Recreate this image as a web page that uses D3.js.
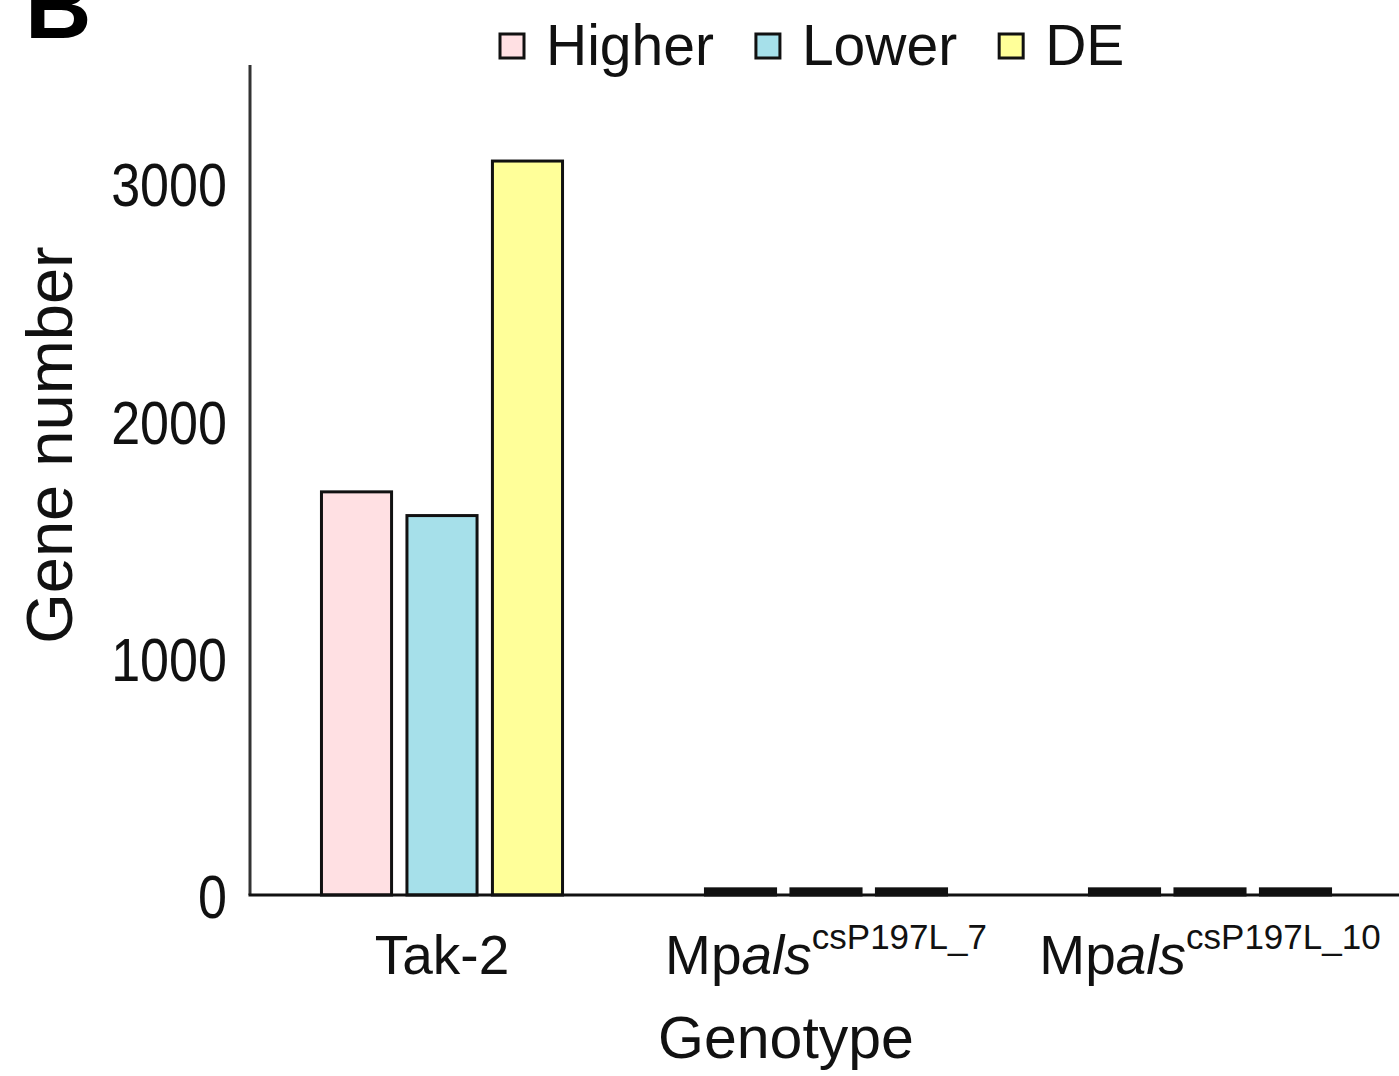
<!DOCTYPE html>
<html>
<head>
<meta charset="utf-8">
<script src="https://cdn.jsdelivr.net/npm/d3@7"></script>
<style>
  html, body { margin: 0; padding: 0; background: #ffffff; }
  svg { display: block; font-family: "Liberation Sans", Arial, Helvetica, sans-serif; }
</style>
</head>
<body>
<svg id="chart" width="1399" height="1076"></svg>
<script>
// Genotypes on the x axis
const genotypes = ["Tak-2", "MpalsP197L_7", "MpalsP197L_10"];
// Tick label parts: plain prefix, italic part, superscript
const labelPlain = ["Tak-2", "Mp", "Mp"];
const labelItalic = ["", "als", "als"];
const labelSup = ["", "csP197L_7", "csP197L_10"];

// Series (number of genes)
const seriesKeys = ["Higher", "Lower", "DE"];
const higher = [1700, 26, 26];
const lower = [1600, 26, 26];
const de = [3095, 26, 26];
const seriesValues = [higher, lower, de];
const seriesColors = ["#ffe0e3", "#a6e0ea", "#ffff99"];

// Y axis ticks
const yTicks = [0, 1000, 2000, 3000];
const yMax = 3500;

const svg = d3.select("#chart");

const plot = { left: 250, right: 1402, top: 65, bottom: 895 };
const outline = "#111";

const x0 = d3.scaleBand()
  .domain(genotypes)
  .range([plot.left, plot.right])
  .paddingInner(0)
  .paddingOuter(0);

const x1 = d3.scaleBand()
  .domain(seriesKeys)
  .range([0, x0.bandwidth()])
  .paddingInner(0.18)
  .paddingOuter(0.836);

const y = d3.scaleLinear()
  .domain([0, yMax])
  .range([plot.bottom, plot.top]);

const colour = d3.scaleOrdinal().domain(seriesKeys).range(seriesColors);

// Bars
const rows = genotypes.map((g, i) => ({
  genotype: g,
  values: seriesKeys.map((k, j) => ({ key: k, value: seriesValues[j][i] }))
}));

const groups = svg.append("g")
  .selectAll("g")
  .data(rows)
  .join("g")
  .attr("transform", d => `translate(${x0(d.genotype)},0)`);

// very short bars are filled entirely by their outline
groups.selectAll("rect")
  .data(d => d.values)
  .join("rect")
  .attr("x", d => x1(d.key))
  .attr("y", d => y(d.value))
  .attr("width", x1.bandwidth())
  .attr("height", d => y(0) - y(d.value))
  .attr("fill", d => (y(0) - y(d.value)) < 8 ? outline : colour(d.key))
  .attr("stroke", outline)
  .attr("stroke-width", 3);

// Y axis
const yAxis = svg.append("g")
  .attr("transform", `translate(${plot.left},0)`)
  .call(d3.axisLeft(y).tickValues(yTicks).tickSize(0).tickPadding(0).tickFormat(d3.format("d")));

yAxis.select(".domain").remove();
yAxis.selectAll(".tick text")
  .attr("x", 0)
  .attr("dy", "0.36em")
  .attr("transform", "translate(-23,0) scale(0.84,1)")
  .attr("font-size", 62)
  .attr("font-family", "'Liberation Sans', Arial, sans-serif")
  .attr("fill", "#111");

svg.append("line")
  .attr("x1", plot.left).attr("x2", plot.left)
  .attr("y1", plot.top).attr("y2", plot.bottom)
  .attr("stroke", "#333").attr("stroke-width", 3);

// X axis baseline
svg.append("line")
  .attr("x1", plot.left - 1.5).attr("x2", 1399)
  .attr("y1", plot.bottom).attr("y2", plot.bottom)
  .attr("stroke", "#111").attr("stroke-width", 3);

// X tick labels
const xLabels = svg.append("g")
  .selectAll("text")
  .data(genotypes)
  .join("text")
  .attr("x", d => x0(d) + x0.bandwidth() / 2)
  .attr("y", 974)
  .attr("text-anchor", "middle")
  .attr("font-size", 55)
  .attr("fill", "#111");

xLabels.each(function (d, i) {
  const t = d3.select(this);
  t.append("tspan").text(labelPlain[i]);
  if (labelItalic[i]) t.append("tspan").attr("font-style", "italic").text(labelItalic[i]);
  if (labelSup[i]) t.append("tspan").attr("font-size", 35).attr("dy", -25).text(labelSup[i]);
});

// Axis titles
svg.append("text")
  .attr("transform", "translate(72,445) rotate(-90)")
  .attr("text-anchor", "middle")
  .attr("font-size", 65)
  .attr("fill", "#111")
  .text("Gene number");

svg.append("text")
  .attr("x", 786)
  .attr("y", 1058)
  .attr("text-anchor", "middle")
  .attr("font-size", 59)
  .attr("fill", "#111")
  .text("Genotype");

// Legend
const legend = svg.append("g");
let lx = 500;
seriesKeys.forEach(k => {
  legend.append("rect")
    .attr("x", lx).attr("y", 34)
    .attr("width", 24).attr("height", 24)
    .attr("fill", colour(k))
    .attr("stroke", "#111").attr("stroke-width", 3);
  const t = legend.append("text")
    .attr("x", lx + 46).attr("y", 65)
    .attr("font-size", 57)
    .attr("fill", "#111")
    .text(k);
  lx += 46 + t.node().getComputedTextLength() + 42;
});

// Panel letter, partly above the top edge
svg.append("text")
  .attr("x", 25).attr("y", 38)
  .attr("font-size", 92)
  .attr("font-weight", "bold")
  .attr("fill", "#000")
  .text("B");
</script>
</body>
</html>
